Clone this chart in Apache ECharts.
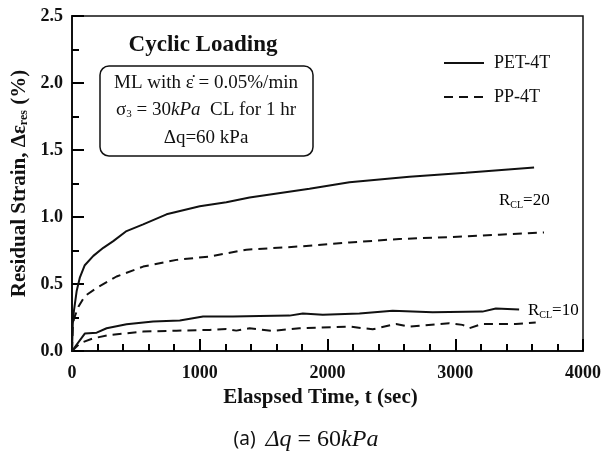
<!DOCTYPE html>
<html>
<head>
<meta charset="utf-8">
<script src="https://cdn.jsdelivr.net/npm/echarts@6/dist/echarts.min.js"></script>
<style>
  html, body { margin: 0; padding: 0; background: #fff; }
  #chart { width: 604px; height: 454px; }
</style>
</head>
<body>
<div id="chart"></div>
<script>
  // [time (sec), residual strain (%)]
  const petR20 = [[0, 0], [6, 0.2], [15, 0.3], [37, 0.45], [62, 0.55], [100, 0.64], [167, 0.71], [245, 0.77],
    [323, 0.82], [427, 0.895], [557, 0.945], [740, 1.02], [1000, 1.08], [1208, 1.11], [1390, 1.145],
    [1859, 1.21], [2172, 1.26], [2641, 1.30], [3083, 1.33], [3617, 1.37]];
  const ppR20 = [[0, 0], [6, 0.18], [15, 0.24], [50, 0.33], [100, 0.41], [193, 0.47], [349, 0.556],
    [557, 0.63], [818, 0.68], [1078, 0.705], [1365, 0.756], [1781, 0.78], [2172, 0.81], [2562, 0.836],
    [2953, 0.85], [3344, 0.868], [3695, 0.885]];
  const petR10 = [[0, 0], [100, 0.13], [193, 0.137], [271, 0.17], [427, 0.2], [635, 0.22], [844, 0.227],
    [1026, 0.257], [1260, 0.257], [1469, 0.262], [1703, 0.264], [1807, 0.28], [1963, 0.27], [2250, 0.28],
    [2510, 0.30], [2823, 0.29], [3213, 0.294], [3318, 0.317], [3500, 0.31]];
  const ppR10 = [[0, 0], [62, 0.058], [167, 0.095], [297, 0.12], [557, 0.145], [818, 0.152], [1078, 0.157],
    [1208, 0.165], [1286, 0.152], [1390, 0.17], [1572, 0.15], [1781, 0.17], [2172, 0.182], [2354, 0.162],
    [2536, 0.202], [2641, 0.182], [2953, 0.207], [3057, 0.195], [3109, 0.17], [3213, 0.202], [3474, 0.202],
    [3630, 0.212]];
  const legendNames = ['PET-4T', 'PP-4T'];

  const ink = '#111';
  const serif = 'Liberation Serif';

  const chart = echarts.init(document.getElementById('chart'));

  function curve(name, data, dashed) {
    return {
      name: name,
      type: 'line',
      data: data,
      symbol: 'none',
      silent: true,
      lineStyle: { color: ink, width: 2, type: dashed ? [9, 6] : 'solid' },
      itemStyle: { color: ink }
    };
  }

  const subRich = {
    b: { fontFamily: serif, fontSize: 17, color: ink },
    s: { fontFamily: serif, fontSize: 10, color: ink, padding: [8, 0, 0, 0] }
  };

  chart.setOption({
    animation: false,
    backgroundColor: '#fff',
    grid: {
      left: 72, top: 16, width: 513, height: 335,
      show: true, borderColor: ink, borderWidth: 1.5, backgroundColor: 'transparent'
    },
    legend: {
      data: legendNames,
      orient: 'vertical',
      left: 443, top: 54, padding: 0,
      itemWidth: 40, itemHeight: 14, itemGap: 16,
      itemStyle: { opacity: 0 },
      textStyle: { fontFamily: serif, fontSize: 18, color: ink, padding: [0, 0, 0, 5] }
    },
    xAxis: {
      type: 'value',
      min: 0, max: 4000, interval: 1000,
      name: 'Elaspsed Time, t (sec)',
      nameLocation: 'middle', nameGap: 34,
      nameTextStyle: { fontFamily: serif, fontWeight: 'bold', fontSize: 21, color: ink, padding: [0, 14, 0, 0] },
      axisLine: { show: true, lineStyle: { color: ink, width: 2 } },
      axisTick: { show: true, inside: true, length: 12, lineStyle: { color: '#000', width: 2 } },
      minorTick: { show: true, splitNumber: 5, length: 7, lineStyle: { color: '#000', width: 2 } },
      axisLabel: {
        margin: 13, fontFamily: serif, fontWeight: 'bold', fontSize: 18, color: ink,
        formatter: v => String(v)
      },
      splitLine: { show: false }
    },
    yAxis: {
      type: 'value',
      min: 0, max: 2.5, interval: 0.5,
      name: 'Residual Strain, Δε{s|res} (%)',
      nameLocation: 'middle', nameGap: 42,
      nameTextStyle: {
        fontFamily: serif, fontWeight: 'bold', fontSize: 21, color: ink,
        rich: { s: { fontFamily: serif, fontWeight: 'bold', fontSize: 12, color: ink, padding: [9, 0, 0, 0] } }
      },
      axisLine: { show: true, lineStyle: { color: ink, width: 2 } },
      axisTick: { show: true, inside: true, length: 12, lineStyle: { color: '#000', width: 2 } },
      minorTick: { show: true, splitNumber: 2, length: 7, lineStyle: { color: '#000', width: 2 } },
      axisLabel: {
        margin: 9, fontFamily: serif, fontWeight: 'bold', fontSize: 18, color: ink,
        formatter: v => v.toFixed(1)
      },
      splitLine: { show: false }
    },
    series: [
      curve('PET-4T', petR20, false),
      curve('PP-4T', ppR20, true),
      curve('PET-4T', petR10, false),
      curve('PP-4T', ppR10, true)
    ],
    graphic: [
      {
        type: 'text', x: 203, y: 45,
        style: { text: 'Cyclic Loading', fontFamily: serif, fontWeight: 'bold', fontSize: 23, fill: ink, align: 'center', verticalAlign: 'middle' }
      },
      {
        type: 'rect',
        shape: { x: 100, y: 66, width: 213, height: 90, r: 9 },
        style: { fill: 'none', stroke: ink, lineWidth: 1.5 }
      },
      {
        type: 'text', x: 206, y: 83,
        style: { text: 'ML with ε̇ = 0.05%/min', fontFamily: serif, fontSize: 19, fill: ink, align: 'center', verticalAlign: 'middle' }
      },
      {
        type: 'text', x: 206, y: 110,
        style: {
          text: 'σ{s|3} = 30{i|kPa}  CL for 1 hr', fontFamily: serif, fontSize: 19, fill: ink, align: 'center', verticalAlign: 'middle',
          rich: {
            s: { fontFamily: serif, fontSize: 11, fill: ink, padding: [8, 0, 0, 0] },
            i: { fontFamily: serif, fontStyle: 'italic', fontSize: 19, fill: ink }
          }
        }
      },
      {
        type: 'text', x: 206, y: 138,
        style: { text: 'Δq=60 kPa', fontFamily: serif, fontSize: 19, fill: ink, align: 'center', verticalAlign: 'middle' }
      },
      {
        type: 'text', x: 499, y: 201,
        style: { text: '{b|R}{s|CL}{b|=20}', rich: subRich, align: 'left', verticalAlign: 'middle' }
      },
      {
        type: 'text', x: 528, y: 311,
        style: { text: '{b|R}{s|CL}{b|=10}', rich: subRich, align: 'left', verticalAlign: 'middle' }
      },
      {
        type: 'text', x: 306, y: 440,
        style: {
          text: '{a|(a)  }{i|Δq}{n| = 60}{i|kPa}', align: 'center', verticalAlign: 'middle',
          rich: {
            a: { fontFamily: 'Noto Sans', fontSize: 19, fill: ink },
            i: { fontFamily: serif, fontStyle: 'italic', fontSize: 24, fill: ink },
            n: { fontFamily: serif, fontSize: 24, fill: ink }
          }
        }
      }
    ]
  });
</script>
</body>
</html>
